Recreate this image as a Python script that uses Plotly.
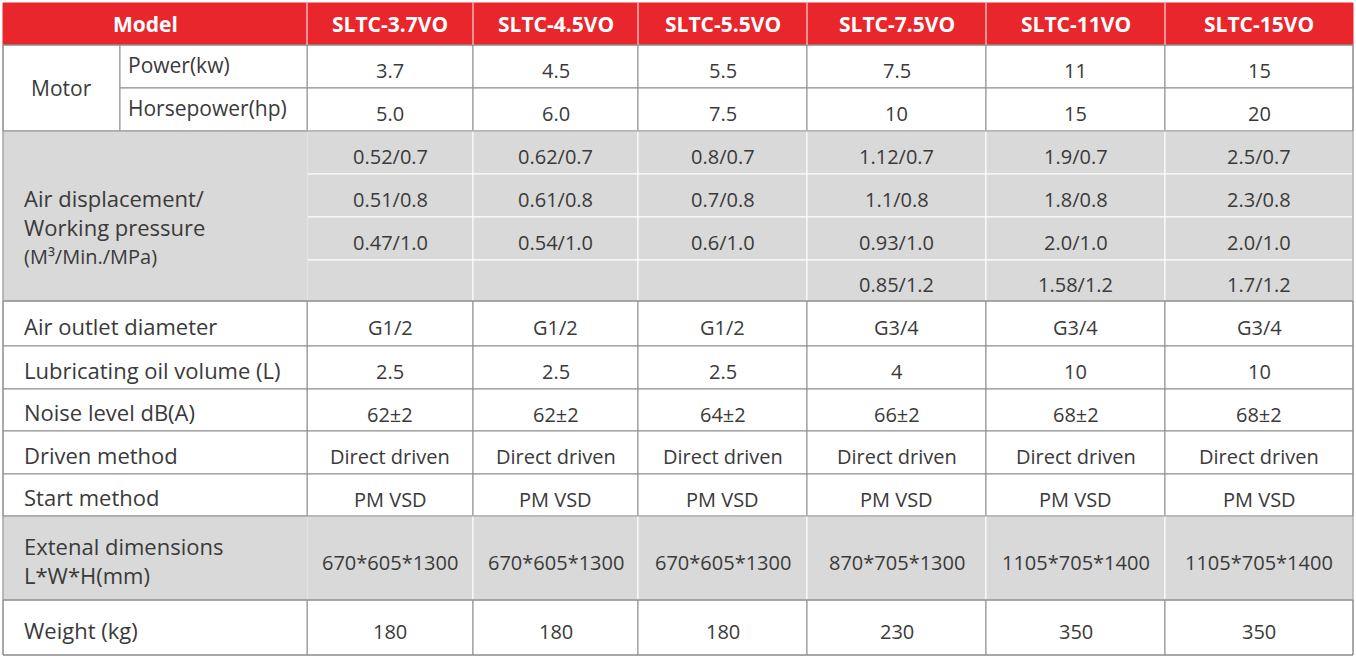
import plotly.graph_objects as go

models = ["SLTC-3.7VO","SLTC-4.5VO","SLTC-5.5VO","SLTC-7.5VO","SLTC-11VO","SLTC-15VO"]
power = ["3.7","4.5","5.5","7.5","11","15"]
horsepower = ["5.0","6.0","7.5","10","15","20"]
air_07 = ["0.52/0.7","0.62/0.7","0.8/0.7","1.12/0.7","1.9/0.7","2.5/0.7"]
air_08 = ["0.51/0.8","0.61/0.8","0.7/0.8","1.1/0.8","1.8/0.8","2.3/0.8"]
air_10 = ["0.47/1.0","0.54/1.0","0.6/1.0","0.93/1.0","2.0/1.0","2.0/1.0"]
air_12 = ["","","","0.85/1.2","1.58/1.2","1.7/1.2"]
outlet = ["G1/2","G1/2","G1/2","G3/4","G3/4","G3/4"]
oil = ["2.5","2.5","2.5","4","10","10"]
noise = ["62±2","62±2","64±2","66±2","68±2","68±2"]
driven = ["Direct driven"]*6
start = ["PM VSD"]*6
dims = ["670*605*1300","670*605*1300","670*605*1300","870*705*1300","1105*705*1400","1105*705*1400"]
weight = ["180","180","180","230","350","350"]

col_x = [307, 473, 638, 807, 986, 1165, 1353]
left, sub = 3, 120
rows_y = [3, 45, 88, 131, 174, 217, 260, 301, 346, 389, 431, 474, 516, 600, 655]

RED = "#e8262b"; GREY = "#d9d9d9"; LINE = "#8c8c8c"; TXT = "#3a3a3a"
FONT = "Open Sans"
shapes, ann = [], []

def rect(x0, x1, y0, y1, fill, line=LINE):
    shapes.append(dict(type="rect", xref="x", yref="y", x0=x0, x1=x1, y0=y0, y1=y1,
                       fillcolor=fill, line=dict(color=line, width=1), layer="below"))

def text(x, y, s, size=20, color=TXT, bold=False, anchor="center"):
    ann.append(dict(xref="x", yref="y", x=x, y=y, text=("<b>%s</b>" % s) if bold else s,
                    showarrow=False, xanchor=anchor, yanchor="middle", align=anchor if anchor != "center" else "center",
                    font=dict(family=FONT, size=size, color=color)))

rect(left, col_x[-1], rows_y[0], rows_y[1], RED, RED)
for c in col_x[:-1]:
    shapes.append(dict(type="line", xref="x", yref="y", x0=c, x1=c, y0=rows_y[0], y1=rows_y[1],
                       line=dict(color="white", width=1)))
text((left + col_x[0]) / 2 - 10, 24, "Model", 21, "white", True)
for i, m in enumerate(models):
    text((col_x[i] + col_x[i + 1]) / 2, 24, m, 21, "white", True)

data_rows = [
    (1, power), (2, horsepower), (3, air_07), (4, air_08), (5, air_10), (6, air_12),
    (7, outlet), (8, oil), (9, noise), (10, driven), (11, start), (12, dims), (13, weight)]
grey_rows = {3, 4, 5, 6, 12}
for r, vals in data_rows:
    y0, y1 = rows_y[r], rows_y[r + 1]
    fill = GREY if r in grey_rows else "white"
    for i, v in enumerate(vals):
        rect(col_x[i], col_x[i + 1], y0, y1, fill, LINE if r not in grey_rows else "white")
        text((col_x[i] + col_x[i + 1]) / 2, (y0 + y1) / 2 + 4, v, 20)

rect(left, sub, rows_y[1], rows_y[3], "white")
text((left + sub) / 2, (rows_y[1] + rows_y[3]) / 2, "Motor", 21)
rect(sub, col_x[0], rows_y[1], rows_y[2], "white")
text(sub + 6, (rows_y[1] + rows_y[2]) / 2 - 2, "Power(kw)", 21, anchor="left")
rect(sub, col_x[0], rows_y[2], rows_y[3], "white")
text(sub + 6, (rows_y[2] + rows_y[3]) / 2 - 2, "Horsepower(hp)", 21, anchor="left")
rect(left, col_x[0], rows_y[3], rows_y[7], GREY, GREY)
text(22, 226, "Air displacement/<br>Working pressure<br><span style='font-size:20px'>(M³/Min./MPa)</span>", 22, anchor="left")
labels = {7: "Air outlet diameter", 8: "Lubricating oil volume (L)", 9: "Noise level dB(A)",
          10: "Driven method", 11: "Start method", 12: "Extenal dimensions<br>L*W*H(mm)", 13: "Weight (kg)"}
for r, lab in labels.items():
    rect(left, col_x[0], rows_y[r], rows_y[r + 1], GREY if r in grey_rows else "white",
         LINE if r not in grey_rows else GREY)
    text(22, (rows_y[r] + rows_y[r + 1]) / 2 + 2, lab, 22, anchor="left")

for r in [3, 7, 12, 13]:
    shapes.append(dict(type="line", xref="x", yref="y", x0=left, x1=col_x[-1], y0=rows_y[r], y1=rows_y[r],
                       line=dict(color=LINE, width=1)))
shapes.append(dict(type="rect", xref="x", yref="y", x0=left, x1=col_x[-1], y0=rows_y[1], y1=rows_y[-1],
                   line=dict(color=LINE, width=1), fillcolor="rgba(0,0,0,0)"))

fig = go.Figure()
fig.update_layout(width=1356, height=658, margin=dict(l=0, r=0, t=0, b=0),
                  paper_bgcolor="white", plot_bgcolor="white", shapes=shapes, annotations=ann,
                  xaxis=dict(range=[0, 1356], visible=False, fixedrange=True),
                  yaxis=dict(range=[658, 0], visible=False, fixedrange=True),
                  showlegend=False)
fig.write_html("out.html", config={"displayModeBar": False},
               post_script="document.body.style.margin='0';document.body.style.overflow='hidden';")
